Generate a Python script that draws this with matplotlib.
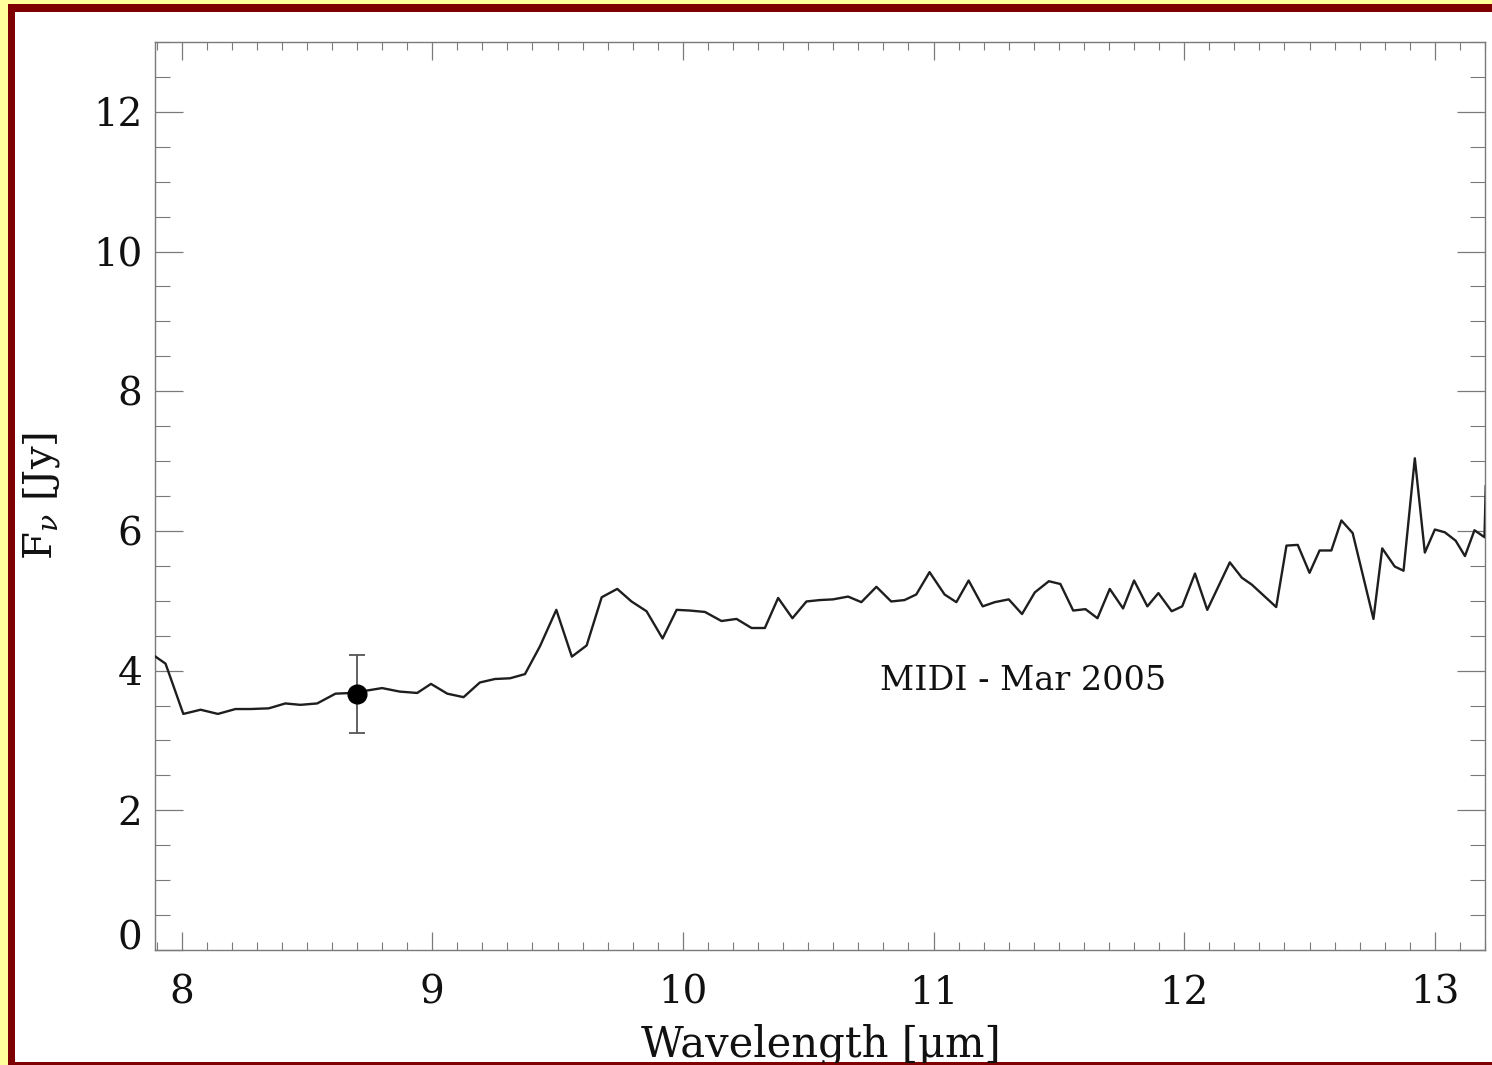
import matplotlib
matplotlib.use("Agg")
import matplotlib.pyplot as plt
from matplotlib.patches import Rectangle

# ---- data ----
wavelength = [7.896, 7.936, 8.007, 8.076, 8.145, 8.215, 8.275, 8.348, 8.414, 8.474,
              8.541, 8.614, 8.68, 8.80, 8.87, 8.94, 8.995, 9.06, 9.125, 9.19,
              9.25, 9.31, 9.37, 9.43, 9.495, 9.557, 9.616, 9.676, 9.738, 9.795,
              9.855, 9.919, 9.975, 10.028, 10.088, 10.154, 10.214, 10.274, 10.327, 10.380,
              10.437, 10.493, 10.546, 10.599, 10.659, 10.712, 10.772, 10.831, 10.884, 10.931,
              10.984, 11.044, 11.091, 11.14, 11.196, 11.244, 11.30, 11.353, 11.404, 11.46,
              11.506, 11.557, 11.606, 11.654, 11.703, 11.756, 11.80, 11.853, 11.897, 11.95,
              11.992, 12.043, 12.092, 12.182, 12.23, 12.27, 12.367, 12.408, 12.453, 12.50,
              12.54, 12.587, 12.627, 12.672, 12.755, 12.79, 12.84, 12.875, 12.92, 12.96,
              13.00, 13.04, 13.083, 13.12, 13.158, 13.198, 13.203]
flux = [4.20, 4.10, 3.38, 3.44, 3.38, 3.45, 3.45, 3.46, 3.53, 3.51,
        3.53, 3.67, 3.68, 3.75, 3.70, 3.68, 3.81, 3.67, 3.62, 3.83,
        3.88, 3.89, 3.95, 4.35, 4.87, 4.20, 4.36, 5.05, 5.17, 4.99,
        4.85, 4.46, 4.87, 4.86, 4.84, 4.71, 4.74, 4.61, 4.61, 5.04,
        4.75, 4.99, 5.01, 5.02, 5.06, 4.98, 5.20, 4.99, 5.01, 5.09,
        5.41, 5.09, 4.98, 5.29, 4.92, 4.98, 5.02, 4.81, 5.12, 5.28,
        5.24, 4.86, 4.88, 4.75, 5.17, 4.89, 5.29, 4.92, 5.11, 4.85,
        4.92, 5.39, 4.87, 5.55, 5.33, 5.23, 4.91, 5.79, 5.80, 5.40,
        5.72, 5.72, 6.15, 5.97, 4.74, 5.75, 5.49, 5.43, 7.04, 5.69,
        6.02, 5.98, 5.86, 5.64, 6.01, 5.91, 6.64]

point_wl = [8.70]
point_flux = [3.66]
point_err_low = [0.55]
point_err_high = [0.56]

annotation = "MIDI - Mar 2005"
x_ticks = [8, 9, 10, 11, 12, 13]
y_ticks = [0, 2, 4, 6, 8, 10, 12]

# ---- styling ----
plt.rcParams['font.family'] = ['DejaVu Serif']
plt.rcParams['mathtext.fontset'] = 'dejavuserif'

W, H = 1492, 1065
fig = plt.figure(figsize=(W / 100, H / 100), dpi=100)
fig.patch.set_facecolor('#FFFF9C')

# frame: dark red border and white inner area
fig.add_artist(Rectangle((8 / W, 0), 1, (H - 4) / H, transform=fig.transFigure,
                         facecolor='#7E0000', edgecolor='none', zorder=-2))
fig.add_artist(Rectangle((15 / W, 3 / H), 1, (H - 12 - 3) / H, transform=fig.transFigure,
                         facecolor='white', edgecolor='none', zorder=-1))
fig.add_artist(Rectangle((8 / W, 0), 1, 2.5 / H, transform=fig.transFigure,
                         facecolor='#7E0000', edgecolor='none', zorder=10))

ax = fig.add_axes([155 / W, 1 - 950 / H, (1485 - 155) / W, (950 - 42) / H])
ax.set_facecolor('white')

ax.plot(wavelength, flux, color='#1e1e1e', lw=1.7, zorder=3)
ax.errorbar(point_wl, point_flux, yerr=[point_err_low, point_err_high], fmt='o',
            color='black', ms=13.5, ecolor='#555555', elinewidth=1.3,
            capsize=6, capthick=1.3, zorder=4)

ax.text(11.356, 3.85, annotation, fontsize=24, ha='center', va='center', color='#111111')

ax.set_xlim(7.894, 13.198)
ax.set_ylim(0, 13)
ax.set_xticks(x_ticks)
ax.set_yticks(y_ticks)
ax.set_xticks([x / 10 for x in range(79, 133)], minor=True)
ax.set_yticks([y / 2 for y in range(0, 27)], minor=True)

spine_col = '#7a7a7a'
for s in ax.spines.values():
    s.set_color(spine_col)
    s.set_linewidth(1.0)

ax.tick_params(axis='x', which='major', direction='in', length=13, width=0.9,
               color=spine_col, top=True, labelsize=28, pad=18, labelcolor='#111111')
ax.tick_params(axis='x', which='minor', direction='in', length=6, width=0.8,
               color=spine_col, top=True)
ax.tick_params(axis='y', which='major', direction='in', length=20, width=0.9,
               color=spine_col, right=True, labelsize=28, pad=9, labelcolor='#111111')
ax.tick_params(axis='y', which='minor', direction='in', length=11, width=0.8,
               color=spine_col, right=True)

ax.yaxis.get_major_ticks()[0].label1.set_verticalalignment('baseline')

ax.set_xlabel('Wavelength [μm]', fontsize=30, color='#111111', va='baseline')
ax.xaxis.set_label_coords(0.501, (950 - 1057) / 908)
ax.set_ylabel(r'F$_\nu$ [Jy]', fontsize=29, color='#111111', va='center')
ax.yaxis.set_label_coords((42 - 155) / 1330, 0.5)

fig.savefig('out.png', dpi=100, facecolor=fig.get_facecolor())
